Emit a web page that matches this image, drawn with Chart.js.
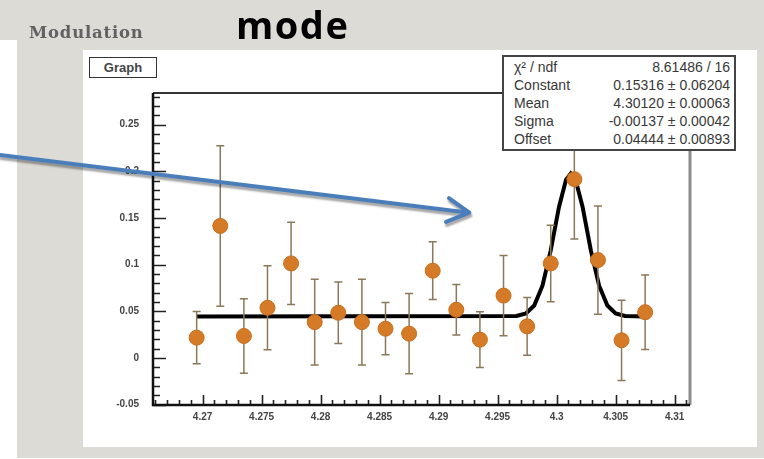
<!DOCTYPE html>
<html>
<head>
<meta charset="utf-8">
<script src="https://cdn.jsdelivr.net/npm/chart.js@4.4.0/dist/chart.umd.min.js"></script>
<style>
body { margin:0; width:764px; height:459px; position:relative; overflow:hidden; background:#fff; font-family:"Liberation Sans", Arial, sans-serif; }
.fondo { position:absolute; background:#dcdbd5; }
#pad { position:absolute; left:83px; top:50px; width:674px; height:397px; background:#fff; }
#myChart { position:absolute; left:0; top:0; }
#titulo { position:absolute; left:29px; top:25px; font-family:"DejaVu Serif", serif; font-weight:bold; font-size:16.5px; line-height:16px; letter-spacing:0.8px; color:#626262; }
#modo { position:absolute; left:236px; top:5px; font-family:"Open Sans", sans-serif; font-weight:700; font-size:38px; line-height:38px; letter-spacing:1.5px; color:#000; }
#graph { position:absolute; left:89px; top:57px; width:66px; height:19px; border:1.5px solid #333; background:#fff; font-size:13px; font-weight:bold; color:#444; text-align:center; line-height:19px; }
#stats { position:absolute; left:502px; top:55px; width:230px; height:91px; border:2px solid #444; background:#fff; font-size:14px; color:#383838; padding-top:1px; }
#stats div { height:18px; line-height:18px; display:flex; justify-content:space-between; padding:0 4px 0 10px; }
</style>
</head>
<body>
<div class="fondo" style="left:0;top:0;width:764px;height:40px"></div>
<div class="fondo" style="left:17px;top:0;width:747px;height:458px"></div>
<div id="pad"></div>
<canvas id="myChart" width="764" height="459"></canvas>
<div id="titulo">Modulation</div>
<div id="modo">mode</div>
<div id="graph">Graph</div>
<div id="stats">
  <div><span>χ² / ndf</span><span>8.61486 / 16</span></div>
  <div><span>Constant</span><span>0.15316 ± 0.06204</span></div>
  <div><span>Mean</span><span>4.30120 ± 0.00063</span></div>
  <div><span>Sigma</span><span>-0.00137 ± 0.00042</span></div>
  <div><span>Offset</span><span>0.04444 ± 0.00893</span></div>
</div>
<script>
// puntos medidos con su error
var xValores = [4.2695, 4.2715, 4.2735, 4.2755, 4.2775, 4.2795, 4.2815, 4.2835, 4.2855, 4.2875,
                4.2895, 4.2915, 4.2935, 4.2955, 4.2975, 4.2995, 4.3015, 4.3035, 4.3055, 4.3075]
var yValores = [0.0217, 0.1415, 0.0235, 0.0537, 0.1013, 0.0384, 0.0484, 0.0384, 0.0313, 0.0260,
                0.0935, 0.0516, 0.0196, 0.0668, 0.0338, 0.1013, 0.1916, 0.1049, 0.0189, 0.0490]
var yErrores = [0.028, 0.086, 0.040, 0.045, 0.044, 0.046, 0.033, 0.046, 0.028, 0.043,
                0.031, 0.027, 0.030, 0.043, 0.031, 0.041, 0.064, 0.058, 0.043, 0.040]

// curva del ajuste (gaussiana + offset)
var ajusteX = [4.2695, 4.2966, 4.2974, 4.2981, 4.2988, 4.2995, 4.3002, 4.3008, 4.3012,
               4.3016, 4.3022, 4.3029, 4.3036, 4.3043, 4.3050, 4.3058, 4.3075]
var ajusteY = [0.0444, 0.0449, 0.0477, 0.0562, 0.0774, 0.1153, 0.1618, 0.1912, 0.1976,
               0.1912, 0.1618, 0.1153, 0.0774, 0.0562, 0.0477, 0.0449, 0.0444]

var xTicks = [4.27, 4.275, 4.28, 4.285, 4.29, 4.295, 4.3, 4.305, 4.31]
var xEtiquetas = ['4.27', '4.275', '4.28', '4.285', '4.29', '4.295', '4.3', '4.305', '4.31']
var yTicks = [-0.05, 0, 0.05, 0.1, 0.15, 0.2, 0.25]
var yEtiquetas = ['-0.05', '0', '0.05', '0.1', '0.15', '0.2', '0.25']

var fuenteTicks = { family: '"Liberation Sans", Arial, sans-serif', size: 10, weight: 'bold' }

var barrasError = {
    id: 'barrasError',
    beforeDatasetDraw(chart, args) {
        if (args.index !== 0) return
        let c = chart.ctx
        let xs = chart.scales.x, ys = chart.scales.y
        c.save()
        c.strokeStyle = '#8a7858'
        c.lineWidth = 1.5
        xValores.forEach((xv, i) => {
            let px = xs.getPixelForValue(xv)
            let arriba = ys.getPixelForValue(yValores[i] + yErrores[i])
            let abajo = ys.getPixelForValue(yValores[i] - yErrores[i])
            c.beginPath()
            c.moveTo(px, arriba); c.lineTo(px, abajo)
            c.moveTo(px - 4, arriba); c.lineTo(px + 4, arriba)
            c.moveTo(px - 4, abajo); c.lineTo(px + 4, abajo)
            c.stroke()
        })
        c.restore()
    }
}

// marco y ticks hacia dentro, estilo ROOT
var marco = {
    id: 'marco',
    beforeDatasetsDraw(chart) {
        let c = chart.ctx, a = chart.chartArea
        let xs = chart.scales.x, ys = chart.scales.y
        c.save()
        c.strokeStyle = '#222'
        c.lineWidth = 1.6
        c.beginPath()
        for (let k = -5; k <= 28; k++) {
            let py = Math.round(ys.getPixelForValue(k / 100)) + 0.5
            c.moveTo(a.left, py)
            c.lineTo(a.left + (k % 5 === 0 ? 13 : 7), py)
        }
        for (let k = 4266; k <= 4311; k++) {
            let px = Math.round(xs.getPixelForValue(k / 1000)) + 0.5
            c.moveTo(px, a.bottom)
            c.lineTo(px, a.bottom - (k % 5 === 0 ? 10 : 5))
        }
        c.stroke()

        c.lineWidth = 2
        c.strokeStyle = '#333'
        c.beginPath()
        c.moveTo(a.left, a.top); c.lineTo(a.right, a.top)
        c.stroke()
        c.lineWidth = 3
        c.strokeStyle = '#8c8c8c'
        c.beginPath()
        c.moveTo(a.right, a.top); c.lineTo(a.right, a.bottom)
        c.stroke()
        c.lineWidth = 2.5
        c.strokeStyle = '#111'
        c.beginPath()
        c.moveTo(a.left, a.top); c.lineTo(a.left, a.bottom); c.lineTo(a.right, a.bottom)
        c.stroke()
        c.restore()
    }
}

// flecha azul que señala el pico
var flecha = {
    id: 'flecha',
    afterDraw(chart) {
        let c = chart.ctx
        let tx = chart.scales.x.getPixelForValue(4.2926)
        let ty = chart.scales.y.getPixelForValue(0.1557)
        let ox = 0, oy = 155
        let ang = Math.atan2(ty - oy, tx - ox)
        c.save()
        c.strokeStyle = '#4a7ebb'
        c.lineWidth = 4
        c.lineCap = 'round'
        c.lineJoin = 'round'
        c.shadowColor = 'rgba(0,0,0,0.35)'
        c.shadowOffsetX = 1
        c.shadowOffsetY = 3
        c.shadowBlur = 2
        c.beginPath()
        c.moveTo(ox, oy)
        c.lineTo(tx, ty)
        c.moveTo(tx - 25 * Math.cos(ang - 0.5), ty - 25 * Math.sin(ang - 0.5))
        c.lineTo(tx, ty)
        c.lineTo(tx - 25 * Math.cos(ang + 0.5), ty - 25 * Math.sin(ang + 0.5))
        c.stroke()
        c.restore()
    }
}

var ctx = document.getElementById('myChart')
var grafico = new Chart(ctx, {
    type: 'scatter',
    data: {
        datasets: [{
            label: 'Graph',
            data: xValores.map((x, i) => ({ x: x, y: yValores[i] })),
            backgroundColor: '#d57a26',
            borderColor: '#c86d1c',
            borderWidth: 1,
            pointRadius: 7.5
        }, {
            label: 'Ajuste',
            type: 'line',
            data: ajusteX.map((x, i) => ({ x: x, y: ajusteY[i] })),
            borderColor: '#000',
            borderWidth: 4,
            pointRadius: 0,
            tension: 0,
            fill: false
        }]
    },
    options: {
        responsive: false,
        animation: false,
        layout: { padding: { top: 93, right: 74, left: 0, bottom: 0 } },
        plugins: { legend: { display: false }, tooltip: { enabled: false } },
        scales: {
            x: {
                type: 'linear',
                min: 4.2658,
                max: 4.3113,
                afterFit: s => { s.height = 54 },
                afterBuildTicks: s => { s.ticks = xTicks.map(v => ({ value: v })) },
                ticks: { callback: (v, i) => xEtiquetas[i], font: fuenteTicks, color: '#444', padding: 6, maxRotation: 0, autoSkip: false },
                grid: { display: false, drawTicks: false },
                border: { display: false }
            },
            y: {
                min: -0.0505,
                max: 0.284,
                afterFit: s => { s.width = 153 },
                afterBuildTicks: s => { s.ticks = yTicks.map(v => ({ value: v })) },
                ticks: { callback: (v, i) => yEtiquetas[i], font: fuenteTicks, color: '#444', padding: 14, autoSkip: false },
                grid: { display: false, drawTicks: false },
                border: { display: false }
            }
        }
    },
    plugins: [marco, barrasError, flecha]
})
</script>
</body>
</html>
